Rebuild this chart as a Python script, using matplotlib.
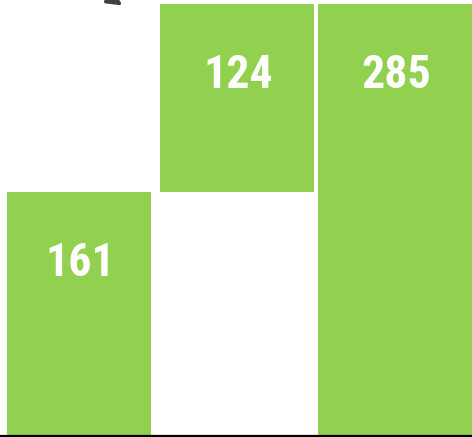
import matplotlib
matplotlib.use("Agg")
import matplotlib.pyplot as plt

# datos del gráfico de cascada
categorias = ["A", "B", "Total"]
valores = [161, 124, 285]
bases = [0, 161, 0]
etiquetas = ["161", "124", "285"]

VERDE = "#92D050"
FUENTE = ["Roboto Condensed", "Archivo Narrow", "DejaVu Sans"]

fig = plt.figure(figsize=(4.72, 4.37), dpi=100)
ax = fig.add_axes([0, 0, 1, 1])

x = list(range(len(categorias)))
anchos = [0.91, 0.975, 0.975]
ax.bar(x, valores, bottom=bases, width=anchos, color=VERDE, edgecolor="none", zorder=2)

for xi, b, v, txt in zip(x, bases, valores, etiquetas):
    ax.annotate(txt, xy=(xi, b + v), xytext=(0.8, -51), textcoords="offset points",
                ha="center", va="center", color="white", fontsize=33, fontweight="bold",
                family=FUENTE, zorder=3)

# línea base
ax.axhline(0, color="black", linewidth=1.6, zorder=4)

# flecha cortada arriba a la izquierda
ax.annotate("", xy=(0.275, 284.0), xytext=(-0.25, 320),
            arrowprops=dict(arrowstyle="-|>", color="#404040", lw=2.5, mutation_scale=22,
                            shrinkA=0, shrinkB=0),
            annotation_clip=False)

ax.set_xlim(-0.5, 2.487)
ax.set_ylim(-0.66, 287.6)
ax.axis("off")

fig.savefig("out.png", dpi=100)
